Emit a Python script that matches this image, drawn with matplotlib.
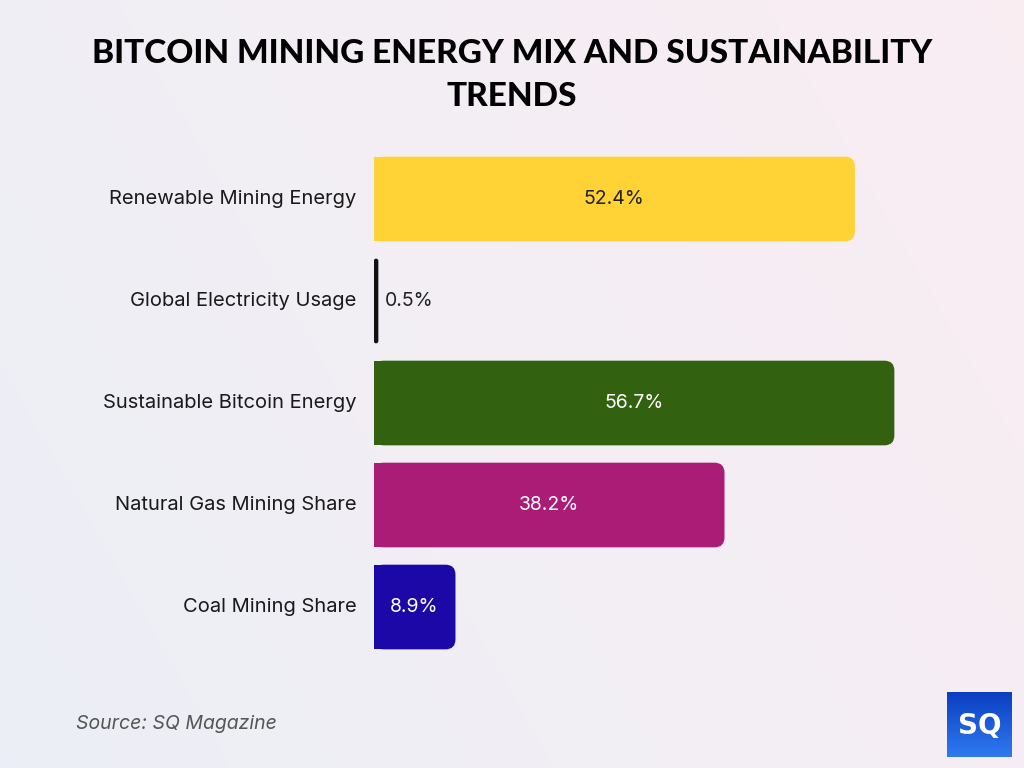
import numpy as np
import matplotlib.pyplot as plt
from matplotlib.patches import FancyBboxPatch, Rectangle

categories = ["Renewable Mining Energy", "Global Electricity Usage",
              "Sustainable Bitcoin Energy", "Natural Gas Mining Share",
              "Coal Mining Share"]
values = [52.4, 0.5, 56.7, 38.2, 8.9]
labels = ["52.4%", "0.5%", "56.7%", "38.2%", "8.9%"]
colors = ["#FFD335", "#111111", "#32620F", "#AB1C76", "#1B08A6"]
text_colors = ["#222222", "#222222", "white", "white", "white"]

fig = plt.figure(figsize=(10.24, 7.68), dpi=100)

# background gradient
bg = fig.add_axes([0, 0, 1, 1], zorder=-10)
gx = np.linspace(0, 1, 256)
gy = np.linspace(0, 1, 256)
X, Y = np.meshgrid(gx, gy)
c1 = np.array([0.925, 0.935, 0.965])
c2 = np.array([0.978, 0.932, 0.952])
t = (0.7 * X + 0.3 * Y)[..., None]
bg.imshow(c1 * (1 - t) + c2 * t, aspect="auto", extent=[0, 1, 0, 1],
          origin="lower")
bg.axis("off")

ax = fig.add_axes([0.365, 0.1432, 0.538, 0.6641])
ax.set_xlim(0, 60)
ax.set_ylim(len(values) - 0.5, -0.5)
ax.axis("off")

h = 0.83
xpx = 0.538 * 1024 / 60
ypx = 0.6641 * 768 / 5
r_px = 10
for i, (v, c) in enumerate(zip(values, colors)):
    rx = min(r_px / xpx, v / 2)
    asp = (r_px / ypx) / (r_px / xpx)
    p = FancyBboxPatch((0, i - h / 2), v, h,
                       boxstyle=f"round,pad=0,rounding_size={rx}",
                       mutation_aspect=asp, fc=c, ec="none")
    ax.add_patch(p)
    if v > 3:
        ax.add_patch(Rectangle((0, i - h / 2), v / 2, h, fc=c, ec="none"))
        ax.text(v / 2, i, labels[i], ha="center", va="center",
                fontsize=14, color=text_colors[i], family="Inter")
    else:
        ax.text(v + 0.7, i, labels[i], ha="left", va="center",
                fontsize=14, color=text_colors[i], family="Inter")
    ax.text(-1.85, i, categories[i], ha="right", va="center",
            fontsize=14.5, color="#1a1a1a", family="Inter")

fig.text(0.5, 0.902, "BITCOIN MINING ENERGY MIX AND SUSTAINABILITY\nTRENDS",
         ha="center", va="center", fontsize=24, fontweight="black",
         family="Lato", linespacing=1.6, color="black")

fig.text(0.074, 0.057, "Source: SQ Magazine", fontsize=14, style="italic",
         color="#555555", family="Inter", va="center")

# logo
lg = fig.add_axes([947 / 1024, 11 / 768, 65 / 1024, 65 / 768])
grad = np.linspace(0, 1, 100)[:, None] * np.ones((1, 100))
lg.imshow(grad, cmap=plt.matplotlib.colors.LinearSegmentedColormap.from_list(
    "b", ["#0a3fc0", "#2f7af0"]), aspect="auto", extent=[0, 1, 0, 1])
lg.text(0.5, 0.48, "SQ", ha="center", va="center", color="white",
        fontsize=20, fontweight="bold", family="DejaVu Sans")
lg.axis("off")

fig.savefig("out.png", dpi=100)
